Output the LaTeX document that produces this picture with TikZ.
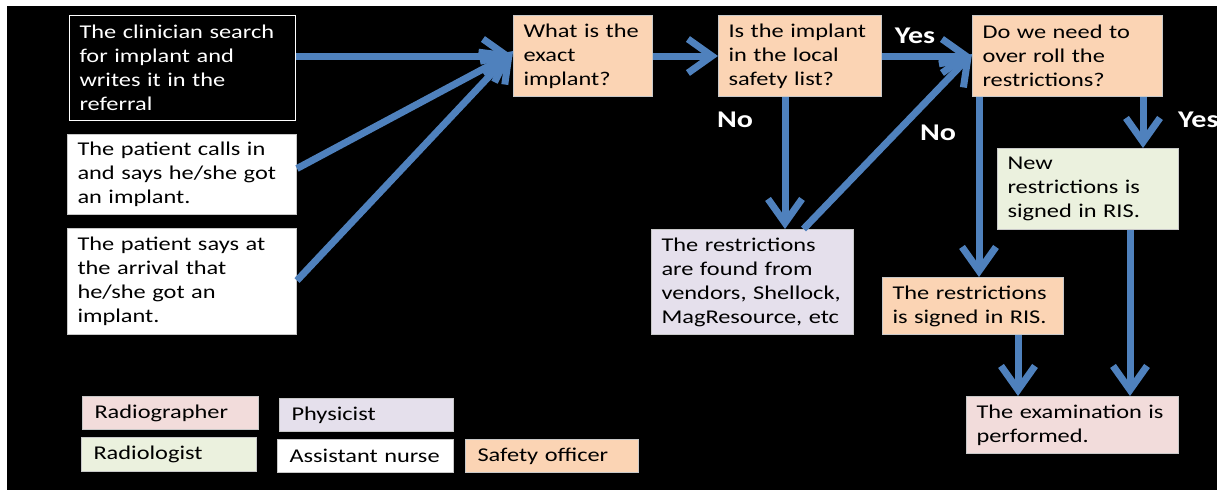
\documentclass[tikz,border=0pt]{standalone}
\usepackage{fontspec}
\setmainfont{Carlito}[FakeStretch=1.25]
\usetikzlibrary{arrows.meta}
\definecolor{peach}{HTML}{FBD4B4}
\definecolor{lavender}{HTML}{E5E0EC}
\definecolor{paleGreen}{HTML}{EBF1DE}
\definecolor{palePink}{HTML}{F2DCDB}
\definecolor{flowblue}{HTML}{4F81BD}
\definecolor{boxline}{HTML}{C8C8C8}
\tikzset{
  box/.style={anchor=north west, inner xsep=10pt, inner ysep=0pt, align=left,
    draw=boxline, line width=1pt, text=black,
    font=\fontsize{19.5}{24}\selectfont},
  legendbox/.style={box, inner xsep=12pt},
  lbl/.style={text=white, inner sep=0pt, font=\bfseries\fontsize{24}{28}\selectfont},
  flow/.style={draw=flowblue, line width=7pt, -{Straight Barb[length=24pt,width=34pt]}}
}
\begin{document}
\begin{tikzpicture}[x=1pt,y=-1pt]
\useasboundingbox (0,0) rectangle (1222,490);
\fill[black] (7,6) rectangle (1217,490);

% sources
\node[box, fill=black, draw=white, text=white, text width=206pt, minimum height=105pt] (A) at (69,15)
  {\mbox{The clinician search}\\\mbox{for implant and}\\\mbox{writes it in the}\\referral};
\node[box, fill=white, text width=209pt, minimum height=80pt] (B) at (67,134)
  {\mbox{The patient calls in}\\\mbox{and says he/she got}\\\mbox{an implant.}};
\node[box, fill=white, text width=209pt, minimum height=106pt] (C) at (67,228)
  {\mbox{The patient says at}\\\mbox{the arrival that}\\\mbox{he/she got an}\\implant.};

% process
\node[box, fill=peach, text width=119pt, minimum height=81pt] (D) at (513,15)
  {\mbox{What is the}\\exact\\implant?};
\node[box, fill=peach, text width=143pt, minimum height=81pt] (E) at (718,15)
  {\mbox{Is the implant}\\\mbox{in the local}\\\mbox{safety list?}};
\node[box, fill=peach, text width=170pt, minimum height=81pt] (F) at (972,15)
  {\mbox{Do we need to}\\\mbox{over roll the}\\restrictions?};
\node[box, fill=lavender, text width=182pt, minimum height=105pt] (G) at (651,229)
  {\mbox{The restrictions}\\\mbox{are found from}\\\mbox{vendors, Shellock,}\\\mbox{MagResource, etc}};
\node[box, fill=paleGreen, text width=161pt, minimum height=81pt] (H) at (997,148)
  {New\\\mbox{restrictions is}\\\mbox{signed in RIS.}};
\node[box, fill=peach, text width=161pt, minimum height=57pt] (I) at (882,277)
  {\mbox{The restrictions}\\\mbox{is signed in RIS.}};
\node[box, fill=palePink, text width=192pt, minimum height=57pt] (J) at (966,396)
  {\mbox{The examination is}\\performed.};

% legend
\node[legendbox, fill=palePink, text width=152pt, minimum height=33pt] (Lrg) at (82,396) {Radiographer};
\node[legendbox, fill=lavender, text width=150pt, minimum height=33pt] (Lph) at (279,398) {Physicist};
\node[legendbox, fill=paleGreen, text width=151pt, minimum height=34pt] (Lrl) at (81,437) {Radiologist};
\node[legendbox, fill=white, text width=152pt, minimum height=33pt] (Lan) at (277,439) {Assistant nurse};
\node[legendbox, fill=peach, text width=149pt, minimum height=33pt] (Lso) at (465,439) {Safety officer};

% connectors
\draw[flow] (D.west -| A.east) -- (D.west);
\draw[flow] ([yshift=6pt]B.east) -- ([yshift=3pt]D.west);
\draw[flow] ([yshift=1pt]C.east) -- ([yshift=5pt]D.west);
\draw[flow] (D.east) -- (E.west);
\draw[flow] (E.east) -- (F.west);
\draw[flow] ([xshift=-15pt]E.south) -- ([xshift=-15pt]E.south |- G.north);
\draw[flow] ([xshift=51pt]G.north) -- ([yshift=2pt]F.west);
\draw[flow] ([xshift=6pt]I.north |- F.south) -- ([xshift=6pt]I.north);
\draw[flow] ([xshift=55pt]H.north |- F.south) -- ([xshift=55pt]H.north);
\draw[flow] ([xshift=45pt]I.south) -- ([xshift=45pt]I.south |- J.north);
\draw[flow] ([xshift=42pt]H.south) -- ([xshift=42pt]H.south |- J.north);

% labels
\node[lbl] (yes1) at (915,36) {Yes};
\node[lbl] (no1) at (735,120) {No};
\node[lbl] (no2) at (938,133) {No};
\node[lbl, anchor=west] (yes2) at (1178,120) {Yes};
\end{tikzpicture}
\end{document}
